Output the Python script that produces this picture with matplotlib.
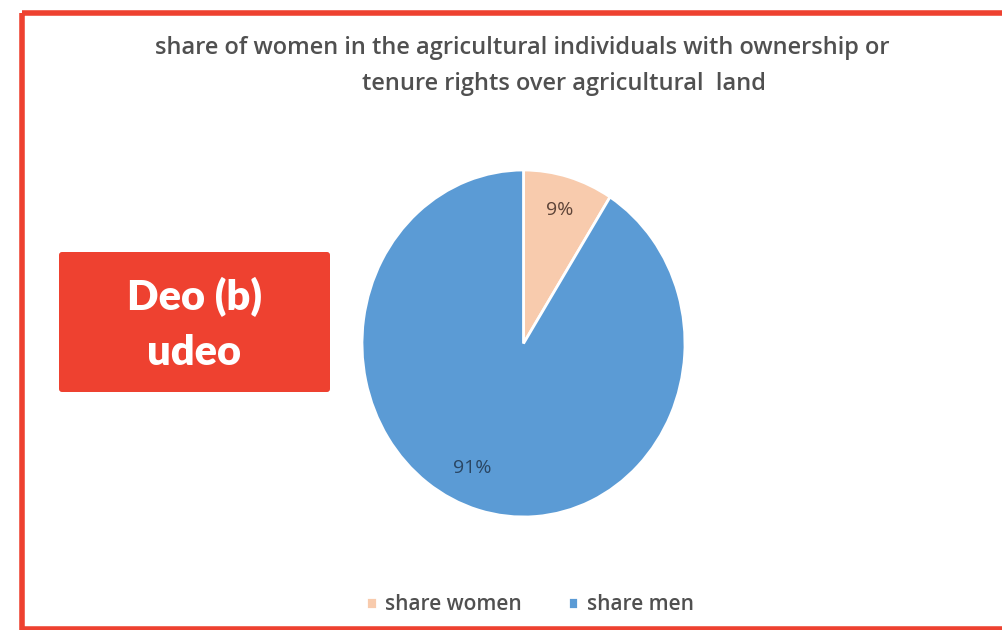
import matplotlib.pyplot as plt
from matplotlib.patches import Rectangle, FancyBboxPatch

labels = ['share women', 'share men']
shares = [9, 91]
colors = ['#F8CBAD', '#5B9BD5']
pct_colors = ['#5e4438', '#2a4663']

title_1 = 'share of women in the agricultural individuals with ownership or'
title_2 = 'tenure rights over agricultural  land'

W, H = 1003, 630
fig = plt.figure(figsize=(W / 100, H / 100), dpi=100)

# overlay axes in pixel coordinates (y down)
bg = fig.add_axes([0, 0, 1, 1])
bg.set_xlim(0, W)
bg.set_ylim(H, 0)
bg.axis('off')

red = '#EE4130'
bg.add_patch(Rectangle((22.5, 12.5), 1100, 616, fill=False, edgecolor=red, linewidth=4))

bg.text(522, 48, title_1, ha='center', va='center', fontsize=17, color='#505050',
        family='Open Sans', fontweight='semibold')
bg.text(564, 84, title_2, ha='center', va='center', fontsize=17, color='#505050',
        family='Open Sans', fontweight='semibold')

# pie (slightly stretched vertically like the screenshot)
ax = fig.add_axes([362 / W, (H - 517) / H, 323 / W, 347 / H])
wedges, texts, autotexts = ax.pie(shares, colors=colors, startangle=90, counterclock=False,
                                  autopct='%d%%', pctdistance=0.8,
                                  wedgeprops=dict(edgecolor='white', linewidth=2),
                                  textprops=dict(fontsize=14, family='Open Sans'))
for t, c in zip(autotexts, pct_colors):
    t.set_color(c)
autotexts[1].set_position((-0.32, -0.72))
ax.set_aspect('auto')
ax.set_xlim(-1, 1)
ax.set_ylim(-1, 1)

fig.legend(wedges, labels, loc='center', bbox_to_anchor=(530 / W, 1 - 605 / H), ncol=2,
           frameon=False, handlelength=0.5, handleheight=0.5, handletextpad=0.4,
           columnspacing=2.2, prop=dict(family='Open Sans', size=15, weight='semibold'),
           labelcolor='#505050')

# red label box
bg.add_patch(FancyBboxPatch((59, 252), 271, 140, boxstyle='round,pad=0,rounding_size=3',
                            facecolor=red, edgecolor='none'))
bg.text(194.5, 297, 'Deo (b)', ha='center', va='center', fontsize=30, color='white',
        fontweight='heavy', family='Lato')
bg.text(194.5, 353, 'udeo', ha='center', va='center', fontsize=30, color='white',
        fontweight='heavy', family='Lato')

fig.savefig('out.png', dpi=100)
